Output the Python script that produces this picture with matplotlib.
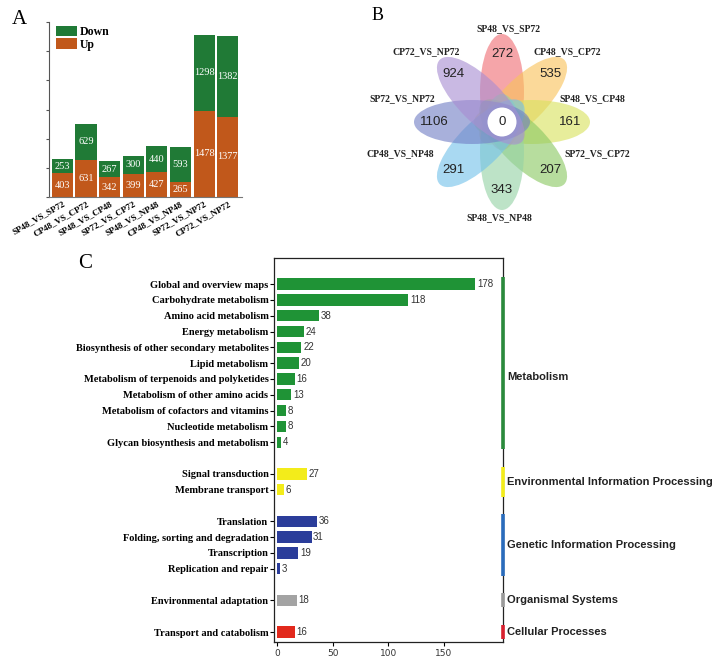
import numpy as np
import matplotlib
matplotlib.use("Agg")
import matplotlib.pyplot as plt
from matplotlib.patches import Ellipse, Circle

SERIF = "Liberation Serif"
SANS = "Liberation Sans"

# ---- panel A data ----
comparisons = ["SP48_VS_SP72", "CP48_VS_CP72", "SP48_VS_CP48", "SP72_VS_CP72",
               "SP48_VS_NP48", "CP48_VS_NP48", "SP72_VS_NP72", "CP72_VS_NP72"]
up_counts = [403, 631, 342, 399, 427, 265, 1478, 1377]
down_counts = [253, 629, 267, 300, 440, 593, 1298, 1382]

# ---- panel B data (clockwise from top) ----
venn_sets = ["SP48_VS_SP72", "CP48_VS_CP72", "SP48_VS_CP48", "SP72_VS_CP72",
             "SP48_VS_NP48", "CP48_VS_NP48", "SP72_VS_NP72", "CP72_VS_NP72"]
venn_unique = [272, 535, 161, 207, 343, 291, 1106, 924]
venn_core = 0
venn_colors = ["#ef6f75", "#f9c35b", "#d9e25e", "#8cc863",
               "#95d2a6", "#74c2ea", "#7380c6", "#a98ed2"]
# name label offsets from the flower centre (pixels)
venn_label_pos = [(6, 93), (65, 70), (90, 23), (95, -32),
                  (-3, -96), (-102, -32), (-100, 23), (-76, 70)]

# ---- panel C data ----
kegg_terms = ["Global and overview maps", "Carbohydrate metabolism", "Amino acid metabolism",
              "Energy metabolism", "Biosynthesis of other secondary metabolites",
              "Lipid metabolism", "Metabolism of terpenoids and polyketides",
              "Metabolism of other amino acids", "Metabolism of cofactors and vitamins",
              "Nucleotide metabolism", "Glycan biosynthesis and metabolism",
              "Signal transduction", "Membrane transport",
              "Translation", "Folding, sorting and degradation", "Transcription",
              "Replication and repair",
              "Environmental adaptation",
              "Transport and catabolism"]
kegg_counts = [178, 118, 38, 24, 22, 20, 16, 13, 8, 8, 4,
               27, 6,
               36, 31, 19, 3,
               18,
               16]
kegg_groups = ["Metabolism", "Environmental Information Processing",
               "Genetic Information Processing", "Organismal Systems", "Cellular Processes"]
group_sizes = [11, 2, 4, 1, 1]
group_bar_colors = ["#1f9336", "#f3ec1a", "#2b3d9a", "#a3a3a3", "#e2291c"]
group_line_colors = ["#2a8a3c", "#f3ec1a", "#2a6cbc", "#9a9a9a", "#d8202e"]

fig = plt.figure(figsize=(7.24, 6.65), dpi=100)
W, H = 724, 665


def fig_rect(x0, y0, x1, y1):
    return [x0 / W, 1 - y1 / H, (x1 - x0) / W, (y1 - y0) / H]


# ================= A =================
axA = fig.add_axes(fig_rect(49, 22, 242, 197))
x = np.arange(len(comparisons))
green_a = "#207a36"
orange_a = "#c1581b"
axA.bar(x, up_counts, width=0.9, color=orange_a, label="Up")
axA.bar(x, down_counts, width=0.9, bottom=up_counts, color=green_a, label="Down")
for i in range(len(x)):
    axA.text(x[i], up_counts[i] / 2, str(up_counts[i]), color="white", ha="center",
             va="center", fontsize=7.5, family=SERIF)
    axA.text(x[i], up_counts[i] + down_counts[i] / 2, str(down_counts[i]), color="white",
             ha="center", va="center", fontsize=7.5, family=SERIF)
axA.set_xlim(-0.56, 7.6)
axA.set_ylim(0, 3000)
axA.set_yticks(np.arange(0, 3001, 500))
axA.set_yticklabels([])
axA.tick_params(axis="y", length=2.5, width=0.8, color="#555555")
axA.set_xticks(x)
axA.set_xticklabels(comparisons, rotation=30, ha="right", rotation_mode="anchor",
                    fontsize=6.5, family=SERIF, fontweight="bold")
axA.tick_params(axis="x", length=0, pad=2)
for s in ["top", "right"]:
    axA.spines[s].set_visible(False)
axA.spines["left"].set_color("#555555")
axA.spines["bottom"].set_color("#777777")
handles, labels = axA.get_legend_handles_labels()
axA.legend(handles[::-1], labels[::-1], loc="upper left", bbox_to_anchor=(0.0, 1.02),
           frameon=False, prop={"family": SERIF, "weight": "bold", "size": 8.5},
           handlelength=1.8, handleheight=1.0, handletextpad=0.2, labelspacing=0.05,
           borderaxespad=0.2)
fig.text(12 / W, 1 - 20 / H, "A", fontsize=15, family=SERIF, va="center")

# ================= B =================
cx, cy = 502, 122
axB = fig.add_axes(fig_rect(360, 0, 690, 235))
axB.set_xlim(360 - cx, 690 - cx)
axB.set_ylim(-(235 - cy), cy)
axB.axis("off")
petal_len, petal_wid, petal_off, num_r = 116, 44, 30, 68
for k in range(len(venn_sets)):
    ang = 90 - 45 * k
    rad = np.deg2rad(ang)
    ex, ey = petal_off * np.cos(rad), petal_off * np.sin(rad)
    axB.add_patch(Ellipse((ex, ey), petal_len, petal_wid, angle=ang,
                          facecolor=venn_colors[k], alpha=0.62, edgecolor="none"))
    axB.text(num_r * np.cos(rad), num_r * np.sin(rad), str(venn_unique[k]),
             ha="center", va="center", fontsize=9.5, family=SANS, color="#222222")
    lx, ly = venn_label_pos[k]
    axB.text(lx, ly, venn_sets[k], ha="center", va="center", fontsize=7,
             family=SERIF, fontweight="bold", color="#222222")
axB.add_patch(Circle((0, 0), 14.5, facecolor="white", edgecolor="none"))
axB.text(0, 0, str(venn_core), ha="center", va="center", fontsize=9.5, family=SANS,
         color="#222222")
fig.text(372 / W, 1 - 16 / H, "B", fontsize=13, family=SERIF, va="center")

# ================= C =================
axC = fig.add_axes(fig_rect(274, 258, 503, 642))
ypos = []
bar_colors = []
y = 0
for g, n in enumerate(group_sizes):
    for j in range(n):
        ypos.append(y)
        bar_colors.append(group_bar_colors[g])
        y += 1
    y += 1
ypos = np.array(ypos)
axC.barh(ypos, kegg_counts, height=0.72, color=bar_colors)
for yy, v in zip(ypos, kegg_counts):
    axC.text(v + 1.5, yy, str(v), va="center", ha="left", fontsize=7, family=SANS,
             color="#333333")
axC.set_xlim(-2.7, 203)
axC.set_ylim(ypos[-1] + 0.63, -1.65)
axC.set_yticks(ypos)
axC.set_yticklabels(kegg_terms, fontsize=7.5, family=SERIF, fontweight="bold")
axC.set_xticks([0, 50, 100, 150])
axC.tick_params(axis="x", labelsize=6.5, length=3, pad=2, labelcolor="#333333")
axC.tick_params(axis="y", length=3, pad=1)
for s in axC.spines.values():
    s.set_linewidth(0.9)
    s.set_color("#222222")

start = 0
for g, n in enumerate(group_sizes):
    y0 = ypos[start] - 0.5
    y1 = ypos[start + n - 1] + 0.5
    axC.plot([203, 203], [y0 + 0.06, y1 - 0.06], color=group_line_colors[g],
             linewidth=2.6, solid_capstyle="butt", clip_on=False, zorder=5)
    # the Metabolism label sits a bit below its bracket centre in the original
    ly = (y0 + y1) / 2 + (0.9 if g == 0 else 0)
    axC.text(206.5, ly, kegg_groups[g], va="center", ha="left",
             fontsize=8, family=SANS, fontweight="bold", color="#222222",
             clip_on=False)
    start += n
fig.text(78 / W, 1 - 263 / H, "C", fontsize=15, family=SERIF, va="center")

fig.savefig("out.png", dpi=100)
